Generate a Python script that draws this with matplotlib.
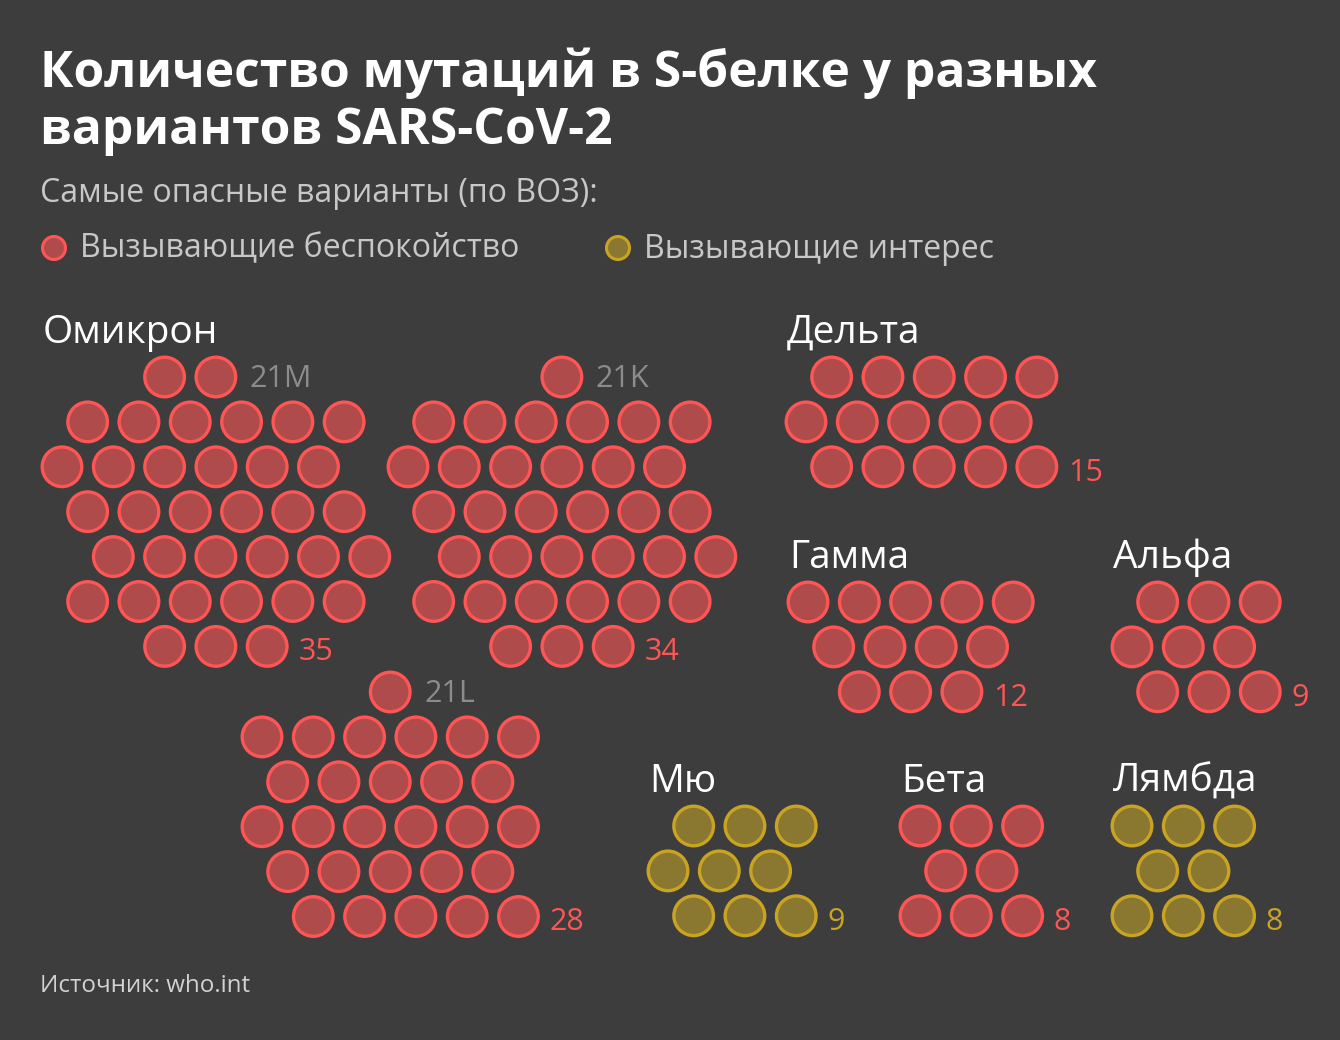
import matplotlib
matplotlib.use("Agg")
import matplotlib.pyplot as plt
from matplotlib.patches import Circle

# ---------------- data ----------------
variants = ["Омикрон", "Омикрон", "Омикрон", "Дельта", "Гамма", "Альфа", "Мю", "Бета", "Лямбда"]
sublineages = ["21M", "21K", "21L", "", "", "", "", "", ""]
mutations = [35, 34, 28, 15, 12, 9, 9, 8, 8]
category = ["concern", "concern", "concern", "concern", "concern", "concern",
            "interest", "concern", "interest"]
legend_labels = ["Вызывающие беспокойство", "Вызывающие интерес"]
title_lines = ["Количество мутаций в S-белке у разных", "вариантов SARS-CoV-2"]
subtitle = "Самые опасные варианты (по ВОЗ):"
source = "Источник: who.int"

# ---------------- layout (pixel space) ----------------
# origin (x of leftmost slot, y of first row), row offsets in half-steps, row counts
layout = [
    dict(origin=(62, 377), offs=[4, 1, 0, 1, 2, 1, 4], rows=[2, 6, 6, 6, 6, 6, 3], title=True),
    dict(origin=(408, 377), offs=[6, 1, 0, 1, 2, 1, 4], rows=[1, 6, 6, 6, 6, 6, 3], title=False),
    dict(origin=(262, 692), offs=[5, 0, 1, 0, 1, 2], rows=[1, 6, 5, 6, 5, 5], title=False),
    dict(origin=(806, 377), offs=[1, 0, 1], rows=[5, 5, 5], title=True),
    dict(origin=(808, 602), offs=[0, 1, 2], rows=[5, 4, 3], title=True),
    dict(origin=(1132, 602), offs=[1, 0, 1], rows=[3, 3, 3], title=True),
    dict(origin=(668, 826), offs=[1, 0, 1], rows=[3, 3, 3], title=True),
    dict(origin=(920, 826), offs=[0, 1, 0], rows=[3, 2, 3], title=True),
    dict(origin=(1132, 826), offs=[0, 1, 0], rows=[3, 2, 3], title=True),
]

BG = "#3d3d3d"
FILL = {"concern": "#b04b4b", "interest": "#8b7830"}
EDGE = {"concern": "#ff5555", "interest": "#c9a423"}
DX, DY, R = 51.3, 44.9, 19.8
FONT = ["Open Sans", "DejaVu Sans"]

W, H = 1340, 1040
fig = plt.figure(figsize=(W / 100, H / 100), dpi=100, facecolor=BG)
ax = fig.add_axes([0, 0, 1, 1])
ax.set_xlim(0, W)
ax.set_ylim(H, 0)
ax.set_facecolor(BG)
ax.axis("off")

# texts
for k, line in enumerate(title_lines):
    ax.text(40, 87 + k * 57, line, fontsize=35.8, fontweight="bold", color="white",
            family=FONT, va="baseline", ha="left")
ax.text(40, 193, subtitle, fontsize=23, color="#c8c8c8", family=FONT, va="center", ha="left")
ax.text(40, 986, source, fontsize=17.4, color="#d2d2d2", family=FONT, va="center", ha="left")

# legend
for (lx, cat, lab) in [(54, "concern", legend_labels[0]), (618, "interest", legend_labels[1])]:
    ax.add_patch(Circle((lx, 248), 11.5, facecolor=FILL[cat], edgecolor=EDGE[cat], lw=2.2))
    ax.text(lx + 26, 249, lab, fontsize=23, color="#c8c8c8", family=FONT, va="center", ha="left")

for name, sub, n, cat, lay in zip(variants, sublineages, mutations, category, layout):
    assert sum(lay["rows"]) == n
    ox, oy = lay["origin"]
    last = None
    first_row_last = None
    for i, (off, cnt) in enumerate(zip(lay["offs"], lay["rows"])):
        y = oy + i * DY
        for j in range(cnt):
            x = ox + off * DX / 2 + j * DX
            ax.add_patch(Circle((x, y), R, facecolor=FILL[cat], edgecolor=EDGE[cat], lw=2.4))
            last = (x, y)
        if i == 0:
            first_row_last = (x, y)
    if lay["title"]:
        ax.text(ox - 19, oy - 44, name, fontsize=28, color="white", family=FONT,
                va="center", ha="left")
    if sub:
        ax.text(first_row_last[0] + 34, first_row_last[1] + 2, sub, fontsize=22,
                color="#8c8c8c", family=FONT, va="center", ha="left")
    ax.text(last[0] + 31, last[1] + 6, str(n), fontsize=22, color=EDGE[cat],
            family=FONT, va="center", ha="left")

fig.savefig("out.png", dpi=100, facecolor=BG)
